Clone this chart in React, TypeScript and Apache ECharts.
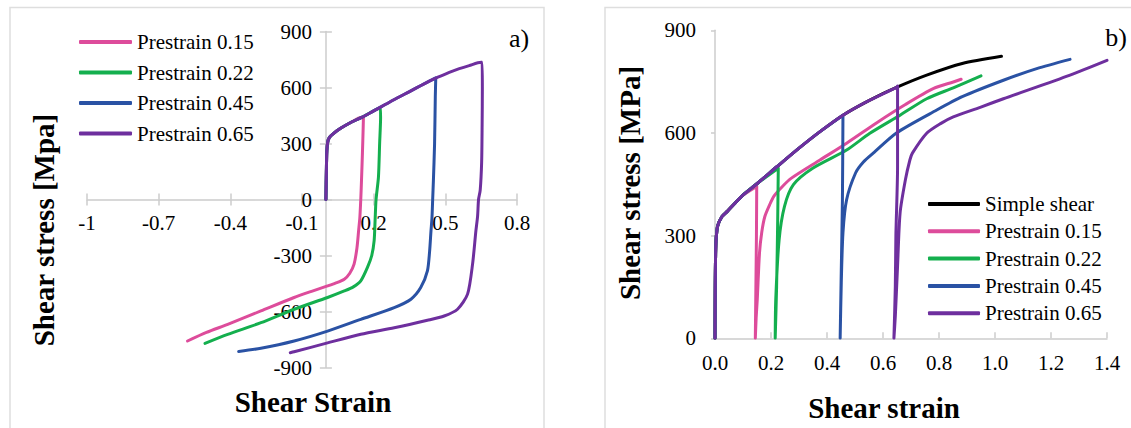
import React, { useEffect, useRef } from "react";
import * as echarts from "echarts";

type Pt = [number, number];

const FONT = "Liberation Serif, serif";

// Panel a) cyclic curves (strain, stress MPa)
const aPrestrain015: Pt[] = [[0,0],[0.002,150],[0.004,260],[0.008,310],[0.015,333],[0.03,352],[0.06,380],[0.1,410],[0.15,440],[0.157,438],[0.156,380],[0.153,250],[0.149,100],[0.146,0],[0.142,-100],[0.137,-167],[0.13,-260],[0.118,-346],[0.1,-395],[0.077,-427],[0.04,-448],[0.007,-463],[-0.06,-492],[-0.133,-525],[-0.272,-597],[-0.411,-669],[-0.5,-712],[-0.579,-758]];
const aPrestrain022: Pt[] = [[0,0],[0.002,150],[0.004,260],[0.008,310],[0.015,333],[0.03,352],[0.06,380],[0.1,410],[0.15,440],[0.2,475],[0.228,493],[0.229,440],[0.225,300],[0.22,120],[0.21,0],[0.206,-110],[0.202,-220],[0.192,-300],[0.174,-364],[0.146,-436],[0.115,-468],[0.077,-490],[0.007,-525],[-0.133,-588],[-0.272,-660],[-0.411,-723],[-0.506,-771]];
const aPrestrain045: Pt[] = [[0,0],[0.002,150],[0.004,260],[0.008,310],[0.015,333],[0.03,352],[0.06,380],[0.1,410],[0.15,440],[0.2,475],[0.25,510],[0.3,545],[0.35,578],[0.4,612],[0.45,645],[0.46,652],[0.458,550],[0.455,300],[0.45,100],[0.447,0],[0.444,-100],[0.44,-167],[0.434,-280],[0.425,-382],[0.397,-472],[0.356,-534],[0.286,-579],[0.146,-642],[0.007,-705],[-0.133,-758],[-0.272,-797],[-0.365,-814]];
const aPrestrain065: Pt[] = [[0,0],[0.002,150],[0.004,260],[0.008,310],[0.015,333],[0.03,352],[0.06,380],[0.1,410],[0.15,440],[0.2,475],[0.25,510],[0.3,545],[0.35,578],[0.4,612],[0.45,645],[0.5,672],[0.55,697],[0.6,717],[0.65,735],[0.654,735],[0.655,600],[0.654,400],[0.652,200],[0.646,50],[0.639,0],[0.635,-90],[0.628,-167],[0.614,-346],[0.593,-507],[0.551,-588],[0.495,-624],[0.425,-647],[0.286,-687],[0.146,-722],[0.007,-768],[-0.133,-816],[-0.149,-821]];

// Panel b) monotonic / reverse-reloading curves
const bSimpleShear: Pt[] = [[0,0],[0.0025,259],[0.009,327],[0.025,356],[0.044,371],[0.095,415],[0.152,453],[0.222,502],[0.299,555],[0.375,604],[0.457,652],[0.553,696],[0.648,733],[0.756,769],[0.883,803],[1.023,824]];
const bPrestrain015: Pt[] = [[0,0],[0.0025,259],[0.009,327],[0.025,356],[0.044,371],[0.095,415],[0.149,444],[0.148,300],[0.146,150],[0.144,0],[0.147,60],[0.151,114],[0.159,250],[0.167,310],[0.178,356],[0.195,390],[0.21,415],[0.24,443],[0.273,468],[0.375,521],[0.47,570],[0.578,630],[0.68,683],[0.781,730],[0.851,749],[0.879,757]];
const bPrestrain022: Pt[] = [[0,0],[0.0025,259],[0.009,327],[0.025,356],[0.044,371],[0.095,415],[0.152,453],[0.226,497],[0.224,350],[0.22,150],[0.215,0],[0.217,114],[0.229,288],[0.248,385],[0.28,449],[0.349,497],[0.47,550],[0.553,599],[0.661,652],[0.756,700],[0.851,732],[0.95,767]];
const bPrestrain045: Pt[] = [[0,0],[0.0025,259],[0.009,327],[0.025,356],[0.044,371],[0.095,415],[0.152,453],[0.222,502],[0.299,555],[0.375,604],[0.457,652],[0.455,400],[0.451,200],[0.447,0],[0.451,162],[0.457,308],[0.47,405],[0.502,483],[0.53,515],[0.565,541],[0.648,600],[0.792,667],[0.883,706],[1.03,754],[1.149,788],[1.268,815]];
const bPrestrain065: Pt[] = [[0,0],[0.0025,259],[0.009,327],[0.025,356],[0.044,371],[0.095,415],[0.152,453],[0.222,502],[0.299,555],[0.375,604],[0.457,652],[0.553,696],[0.648,733],[0.652,737],[0.652,502],[0.646,300],[0.644,152],[0.639,0],[0.644,65],[0.652,211],[0.661,366],[0.68,463],[0.696,521],[0.705,541],[0.756,599],[0.807,628],[0.851,647],[0.947,675],[1.03,700],[1.268,769],[1.4,812]];

const names = ["Simple shear", "Prestrain 0.15", "Prestrain 0.22", "Prestrain 0.45", "Prestrain 0.65"];
const colors = ["#000000", "#DD4C9B", "#14AF4E", "#2A52A4", "#6E2F9E"];

const AXIS_GRAY = "#cccccc";

// left grid geometry (pixels) and value ranges
const GA = { left: 87, top: 31.5, width: 430, height: 336 };
const XA = { min: -1, max: 0.8 };
const YA = { min: -900, max: 900 };

export default function App() {
  const ref = useRef<HTMLDivElement>(null);
  useEffect(() => {
    if (!ref.current) return;
    const chart = echarts.init(ref.current, null, { renderer: "svg" });
    const lbl = { color: "#000", fontSize: 21, fontFamily: FONT };
    const line = (name: string, data: Pt[], color: string, xi: number, yi: number) => ({
      type: "line",
      name,
      data,
      xAxisIndex: xi,
      yAxisIndex: yi,
      symbol: "none",
      showSymbol: false,
      smooth: 0.25,
      lineStyle: { color, width: 3, cap: "round", join: "round" },
      itemStyle: { color },
      emphasis: { disabled: true },
    });
    const fmtA = (v: number) => String(Math.round(v * 10) / 10);
    const fmtB = (v: number) => (Math.round(v * 10) / 10).toFixed(1);
    const text = (t: string, x: number, y: number, size: number, bold: boolean, rot = 0) => ({
      type: "text",
      x,
      y,
      rotation: rot,
      silent: true,
      style: {
        text: t,
        fontSize: size,
        fontWeight: bold ? "bold" : "normal",
        fontFamily: FONT,
        fill: "#000",
        align: "center",
        verticalAlign: "middle",
      },
    });
    // pixel distance from grid edges to the zero lines (left panel)
    const zeroX = GA.width * (0 - XA.min) / (XA.max - XA.min);
    const zeroYFromBottom = GA.height * (0 - YA.min) / (YA.max - YA.min);
    const tick = { show: true, inside: false, length: 6, lineStyle: { color: AXIS_GRAY, width: 1.5 } };
    chart.setOption({
      animation: false,
      textStyle: { fontFamily: FONT },
      grid: [
        { ...GA },
        { left: 715, top: 30.3, width: 392, height: 308 },
      ],
      xAxis: [
        {
          type: "value", gridIndex: 0, ...XA, interval: 0.3, position: "bottom",
          offset: -zeroYFromBottom,
          axisLine: { show: true, onZero: false, lineStyle: { color: AXIS_GRAY, width: 1.5 } },
          axisTick: tick,
          axisLabel: { ...lbl, margin: 13, formatter: fmtA },
          splitLine: { show: false },
        },
        {
          type: "value", gridIndex: 0, ...XA, interval: 0.3, position: "top",
          offset: -(GA.height - zeroYFromBottom),
          axisLine: { show: false, onZero: false },
          axisTick: tick,
          axisLabel: { show: false },
          splitLine: { show: false },
        },
        {
          type: "value", gridIndex: 1, min: 0, max: 1.4, interval: 0.2,
          axisLine: { show: true, lineStyle: { color: AXIS_GRAY, width: 1.5 } },
          axisTick: { show: true, inside: true, length: 6, lineStyle: { color: AXIS_GRAY, width: 1.5 } },
          axisLabel: { ...lbl, margin: 14, formatter: fmtB },
          splitLine: { show: false },
        },
      ],
      yAxis: [
        {
          type: "value", gridIndex: 0, ...YA, interval: 300, position: "left",
          offset: -zeroX,
          axisLine: { show: true, onZero: false, lineStyle: { color: AXIS_GRAY, width: 1.5 } },
          axisTick: tick,
          axisLabel: { ...lbl, margin: 14 },
          splitLine: { show: false },
        },
        {
          type: "value", gridIndex: 0, ...YA, interval: 300, position: "right",
          offset: -(GA.width - zeroX),
          axisLine: { show: false, onZero: false },
          axisTick: tick,
          axisLabel: { show: false },
          splitLine: { show: false },
        },
        {
          type: "value", gridIndex: 1, min: 0, max: 900, interval: 300,
          axisLine: { show: true, lineStyle: { color: AXIS_GRAY, width: 1.5 } },
          axisTick: { show: true, inside: false, length: 4, lineStyle: { color: AXIS_GRAY, width: 1.5 } },
          axisLabel: { ...lbl, margin: 19 },
          splitLine: { show: false },
        },
      ],
      legend: [
        {
          data: names.slice(1),
          orient: "vertical",
          left: 79,
          top: 31.5,
          padding: 0,
          icon: "roundRect",
          itemWidth: 53,
          itemHeight: 4,
          itemGap: 9.5,
          selectedMode: false,
          textStyle: { color: "#000", fontSize: 21, lineHeight: 21, fontFamily: FONT },
        },
        {
          data: names,
          orient: "vertical",
          left: 928,
          top: 193.5,
          padding: 0,
          icon: "roundRect",
          itemWidth: 52,
          itemHeight: 4,
          itemGap: 6.3,
          selectedMode: false,
          textStyle: { color: "#000", fontSize: 21, lineHeight: 21, fontFamily: FONT },
        },
      ],
      series: [
        line(names[1], aPrestrain015, colors[1], 0, 0),
        line(names[2], aPrestrain022, colors[2], 0, 0),
        line(names[3], aPrestrain045, colors[3], 0, 0),
        line(names[4], aPrestrain065, colors[4], 0, 0),
        line(names[0], bSimpleShear, colors[0], 2, 2),
        line(names[1], bPrestrain015, colors[1], 2, 2),
        line(names[2], bPrestrain022, colors[2], 2, 2),
        line(names[3], bPrestrain045, colors[3], 2, 2),
        line(names[4], bPrestrain065, colors[4], 2, 2),
      ],
      graphic: [
        { type: "rect", silent: true, z: -10, shape: { x: 10, y: 7.5, width: 534, height: 440 }, style: { fill: "none", stroke: "#dedede", lineWidth: 1.5 } },
        { type: "rect", silent: true, z: -10, shape: { x: 605, y: 7.5, width: 540, height: 440 }, style: { fill: "none", stroke: "#dedede", lineWidth: 1.5 } },
        text("Shear stress [Mpa]", 44, 230, 29, true, Math.PI / 2),
        text("Shear Strain", 313, 402, 29, true),
        text("a)", 519, 38, 26, false),
        text("Shear stress [MPa]", 630, 183, 29, true, Math.PI / 2),
        text("Shear strain", 884, 408, 29, true),
        text("b)", 1116, 37, 26, false),
      ],
    });
    return () => chart.dispose();
  }, []);
  return (
    <div
      ref={ref}
      style={{ position: "fixed", left: 0, top: 0, width: 1131, height: 428, background: "#fff" }}
    />
  );
}
